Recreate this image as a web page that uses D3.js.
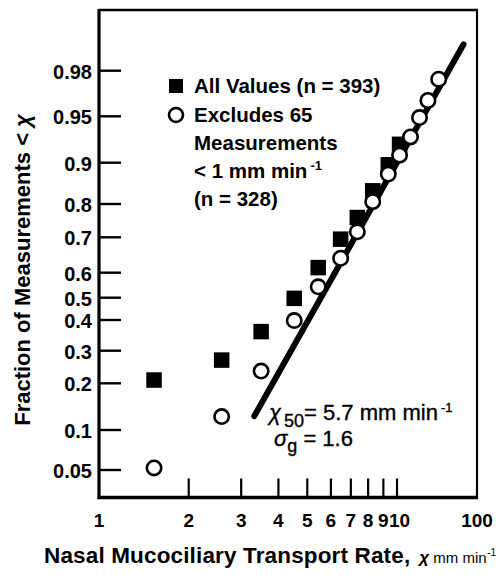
<!DOCTYPE html>
<html>
<head>
<meta charset="utf-8">
<script src="https://cdn.jsdelivr.net/npm/d3@7"></script>
<style>
  html, body { margin: 0; padding: 0; background: #fff; }
  svg { display: block; }
  text { font-family: "Liberation Sans", Arial, Helvetica, sans-serif; fill: #000; }
</style>
</head>
<body>
<svg id="chart" width="497" height="575"></svg>
<script>
// Transport-rate classes (mm/min) and the cumulative fraction of measurements below each
const rates     = [1.53, 2.58, 3.50, 4.52, 5.44, 6.47, 7.36, 8.29, 9.35, 10.2, 11.1, 11.9, 12.7, 13.8];
const fracAll   = [0.209, 0.269, 0.361, 0.497, 0.615, 0.695, 0.762, 0.837, 0.896, 0.923];
const fracExcl  = [0.052, 0.124, 0.235, 0.398, 0.544, 0.642, 0.718, 0.807, 0.877, 0.910, 0.931, 0.949, 0.963, 0.976];

// Axis ticks
const yTickValues = [0.05, 0.1, 0.2, 0.3, 0.4, 0.5, 0.6, 0.7, 0.8, 0.9, 0.95, 0.98];
const yTickLabels = ["0.05", "0.1", "0.2", "0.3", "0.4", "0.5", "0.6", "0.7", "0.8", "0.9", "0.95", "0.98"];
const xTickValues = [2, 3, 4, 5, 6, 7, 8, 9, 10];
const xTickLabels = [1, 2, 3, 4, 5, 6, 7, 8, 9, 10, 100];

// Log-normal fit: median rate and geometric standard deviation
const x50 = 5.7;
const sigmaG = 1.6;
const fitFraction = [0.125, 0.989];

// Inverse standard normal CDF (Acklam's rational approximation)
function probit(p) {
  const a = [-3.969683028665376e+01, 2.209460984245205e+02, -2.759285104469687e+02,
              1.383577518672690e+02, -3.066479806614716e+01, 2.506628277459239e+00];
  const b = [-5.447609879822406e+01, 1.615858368580409e+02, -1.556989798598866e+02,
              6.680131188771972e+01, -1.328068155288572e+01];
  const c = [-7.784894002430293e-03, -3.223964580411365e-01, -2.400758277161838e+00,
             -2.549671667614451e+00, 4.374664141464968e+00, 2.938163982698783e+00];
  const d = [7.784695709041462e-03, 3.224671290700398e-01, 2.445134137142996e+00,
             3.754408661907416e+00];
  const pl = 0.02425;
  let q, r;
  if (p < pl) {
    q = Math.sqrt(-2 * Math.log(p));
    return (((((c[0]*q+c[1])*q+c[2])*q+c[3])*q+c[4])*q+c[5]) / ((((d[0]*q+d[1])*q+d[2])*q+d[3])*q+1);
  }
  if (p <= 1 - pl) {
    q = p - 0.5; r = q * q;
    return (((((a[0]*r+a[1])*r+a[2])*r+a[3])*r+a[4])*r+a[5])*q / (((((b[0]*r+b[1])*r+b[2])*r+b[3])*r+b[4])*r+1);
  }
  q = Math.sqrt(-2 * Math.log(1 - p));
  return -(((((c[0]*q+c[1])*q+c[2])*q+c[3])*q+c[4])*q+c[5]) / ((((d[0]*q+d[1])*q+d[2])*q+d[3])*q+1);
}

const svg = d3.select("#chart");
const frame = { left: 99, right: 477, top: 10, bottom: 497.5 };

// Log x axis: one decade spans 298 px; the last label closes the axis at the frame edge
const decade = 298;
const x = d3.scaleLog()
  .domain([1, 17, 100])
  .range([frame.left, frame.left + decade * Math.log10(17), frame.right]);

// Probability y axis, calibrated in normal-score space at each ruled tick
const yTickPos = [470, 430, 383.3, 350.7, 320, 297.7, 272.7, 237.3, 204, 162.7, 116.3, 70.7];
const y = d3.scaleLinear()
  .domain(yTickValues.map(probit))
  .range(yTickPos);
const yp = p => y(probit(p));

// Frame
const g = svg.append("g");
g.append("line").attr("x1", frame.left).attr("x2", frame.right + 1)
  .attr("y1", frame.top).attr("y2", frame.top)
  .attr("stroke", "#000").attr("stroke-width", 2.6);
g.append("line").attr("x1", frame.right).attr("x2", frame.right)
  .attr("y1", frame.top).attr("y2", frame.bottom)
  .attr("stroke", "#000").attr("stroke-width", 2.2);
g.append("line").attr("x1", frame.left).attr("x2", frame.left)
  .attr("y1", frame.top - 1).attr("y2", frame.bottom + 1.5)
  .attr("stroke", "#000").attr("stroke-width", 3.2);
g.append("line").attr("x1", frame.left - 1.5).attr("x2", frame.right + 1)
  .attr("y1", frame.bottom).attr("y2", frame.bottom)
  .attr("stroke", "#000").attr("stroke-width", 3.6);

// Y ticks (inward) and labels
g.selectAll(".ytick").data(yTickValues).join("line")
  .attr("class", "ytick")
  .attr("x1", frame.left).attr("x2", frame.left + 22)
  .attr("y1", d => yp(d)).attr("y2", d => yp(d))
  .attr("stroke", "#000").attr("stroke-width", 2.4);
g.selectAll(".ylab").data(yTickValues).join("text")
  .attr("class", "ylab")
  .attr("x", 92).attr("y", d => yp(d) + 1)
  .attr("text-anchor", "end")
  .attr("dominant-baseline", "central")
  .attr("font-size", 20).attr("font-weight", "bold")
  .text((d, i) => yTickLabels[i]);

// X ticks (inward) and labels
g.selectAll(".xtick").data(xTickValues).join("line")
  .attr("class", "xtick")
  .attr("x1", d => x(d)).attr("x2", d => x(d))
  .attr("y1", frame.bottom).attr("y2", frame.bottom - 19)
  .attr("stroke", "#000").attr("stroke-width", 2.2);
g.selectAll(".xlab").data(xTickLabels).join("text")
  .attr("class", "xlab")
  .attr("x", d => x(d)).attr("y", 527)
  .attr("dx", d => (d === 10 ? 2.5 : 0))
  .attr("text-anchor", "middle")
  .attr("font-size", 19).attr("font-weight", "bold")
  .text(d => d);

// Axis titles
const yTitle = svg.append("text")
  .attr("transform", "translate(22,270) rotate(-90)")
  .attr("text-anchor", "middle")
  .attr("dominant-baseline", "central")
  .attr("font-size", 22).attr("font-weight", "bold");
yTitle.append("tspan").text("Fraction of Measurements < ");
yTitle.append("tspan").attr("font-style", "italic").text("χ");

const xTitle = svg.append("text")
  .attr("x", 44).attr("y", 563)
  .attr("font-size", 22.5).attr("font-weight", "bold")
  .attr("letter-spacing", 0.15);
xTitle.append("tspan").text("Nasal Mucociliary Transport Rate,");
xTitle.append("tspan").attr("dx", 9).attr("font-style", "italic")
  .attr("font-size", 17).attr("letter-spacing", 0).text("χ");
xTitle.append("tspan").attr("font-size", 15).attr("font-weight", "normal")
  .attr("letter-spacing", 0).text(" mm min");
xTitle.append("tspan").attr("dx", 0.5).attr("dy", -7).attr("font-size", 10).attr("font-weight", "normal")
  .attr("letter-spacing", 0).text("-1");

// All values: filled squares
const sq = 15.5;
svg.append("g").selectAll("rect").data(fracAll).join("rect")
  .attr("x", (d, i) => x(rates[i]) - sq / 2)
  .attr("y", d => yp(d) - sq / 2)
  .attr("width", sq).attr("height", sq)
  .attr("fill", "#000");

// Fitted log-normal line
const fitLine = d3.line()
  .x(p => x(x50 * Math.pow(sigmaG, probit(p))))
  .y(p => yp(p));
svg.append("path")
  .datum(fitFraction)
  .attr("d", fitLine)
  .attr("fill", "none").attr("stroke", "#000")
  .attr("stroke-width", 6).attr("stroke-linecap", "round");

// Values above 1 mm/min only: open circles
svg.append("g").selectAll("circle").data(fracExcl).join("circle")
  .attr("cx", (d, i) => x(rates[i]))
  .attr("cy", d => yp(d))
  .attr("r", 7.2)
  .attr("fill", "#fff").attr("stroke", "#000").attr("stroke-width", 2.6);

// Legend
const legend = svg.append("g");
legend.append("rect").attr("x", 169).attr("y", 79).attr("width", 14).attr("height", 14).attr("fill", "#000");
legend.append("circle").attr("cx", 176).attr("cy", 115).attr("r", 7)
  .attr("fill", "#fff").attr("stroke", "#000").attr("stroke-width", 2.6);
const legendLines = ["All Values (n = 393)", "Excludes 65", "Measurements", "< 1 mm min", "(n = 328)"];
const legendY = [93, 122, 150, 178, 206];
legendLines.forEach((t, i) => {
  const txt = legend.append("text")
    .attr("x", 194).attr("y", legendY[i])
    .attr("font-size", 20.5).attr("font-weight", "bold")
    .text(t);
  if (i === 3) {
    txt.append("tspan").attr("dx", 3).attr("dy", -8).attr("font-size", 13).text("-1");
  }
});

// Fit annotation
const ann1 = svg.append("text").attr("x", 269).attr("y", 420)
  .attr("font-size", 22).attr("stroke", "#000").attr("stroke-width", 0.35);
ann1.append("tspan").attr("font-style", "italic").text("χ");
ann1.append("tspan").attr("dx", 3).attr("dy", 7).attr("font-size", 18).text("50");
ann1.append("tspan").attr("dy", -7).text("= 5.7 mm min");
ann1.append("tspan").attr("dx", 3).attr("dy", -8).attr("font-size", 13).text("-1");

const ann2 = svg.append("text").attr("x", 274).attr("y", 446)
  .attr("font-size", 22).attr("stroke", "#000").attr("stroke-width", 0.35);
ann2.append("tspan").attr("font-style", "italic").text("σ");
ann2.append("tspan").attr("dy", 6).attr("font-size", 18).text("g");
ann2.append("tspan").attr("dy", -6).text(" = 1.6");
</script>
</body>
</html>
